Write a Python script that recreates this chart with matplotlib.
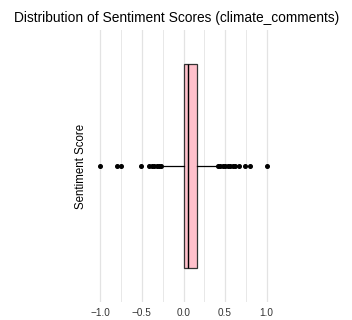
import matplotlib
matplotlib.use("Agg")
import matplotlib.pyplot as plt
from matplotlib.ticker import MultipleLocator

plt.rcParams['font.family'] = ['Liberation Sans', 'DejaVu Sans']

# Box statistics
q1 = 0.00
median = 0.06
q3 = 0.16
whisker_low = -0.24
whisker_high = 0.39
outliers = [-1.0, -0.80, -0.75, -0.51, -0.41, -0.38, -0.35, -0.32, -0.29, -0.27,
            0.41, 0.44, 0.47, 0.50, 0.53, 0.56, 0.59, 0.62, 0.67, 0.74, 0.80, 1.0]
major_ticks = [-1.0, -0.5, 0.0, 0.5, 1.0]
tick_labels = ["\u22121.0", "\u22120.5", "0.0", "0.5", "1.0"]

fig = plt.figure(figsize=(3.52, 3.2), dpi=100)
ax = fig.add_axes([92/352, 1-302/320, (275-92)/352, (302-30)/320])

stats = [dict(med=median, q1=q1, q3=q3, whislo=whisker_low, whishi=whisker_high,
              fliers=outliers, label="")]
ax.bxp(stats, positions=[0], widths=0.75, orientation='horizontal',
       showcaps=False, patch_artist=True,
       boxprops=dict(facecolor='#FFC0CB', edgecolor='#333333', linewidth=0.9),
       medianprops=dict(color='black', linewidth=1.0),
       whiskerprops=dict(color='black', linewidth=0.9),
       flierprops=dict(marker='o', markerfacecolor='black', markeredgecolor='black',
                       markersize=2.6, linestyle='none'),
       zorder=3)

ax.set_ylim(-0.5, 0.5)
ax.set_xlim(-1.1, 1.1)
ax.set_xticks(major_ticks)
ax.set_xticklabels(tick_labels)
ax.xaxis.set_minor_locator(MultipleLocator(0.25))
ax.set_yticks([])
ax.grid(axis='x', which='major', color='#e3e3e3', linewidth=0.9, zorder=0)
ax.grid(axis='x', which='minor', color='#e8e8e8', linewidth=0.7, zorder=0)
ax.set_axisbelow(True)
ax.tick_params(axis='x', which='both', length=0, labelsize=7.2, pad=4, labelcolor='#333333')
for s in ax.spines.values():
    s.set_visible(False)

ax.yaxis.set_label_coords(-(92-81)/183, 0.5)
ax.set_ylabel("Sentiment Score", fontsize=8.3, va='center')
fig.text(177/352, 1-18/320, "Distribution of Sentiment Scores (climate_comments)",
         ha='center', va='center', fontsize=9.9)

fig.savefig("out.png", dpi=100)
